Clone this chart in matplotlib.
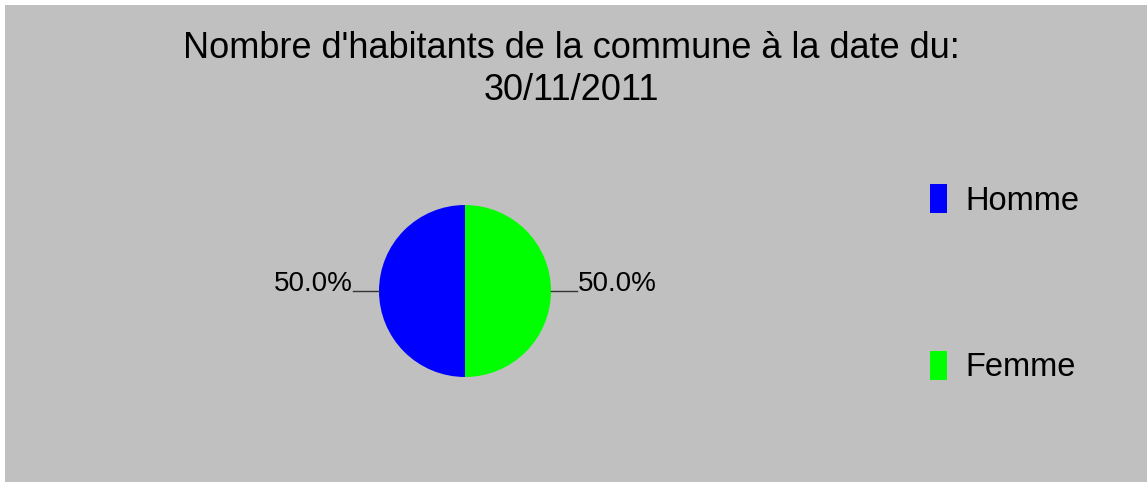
import matplotlib.pyplot as plt
import numpy as np
from matplotlib.patches import Rectangle, Patch

# data
categories = ['Homme', 'Femme']
values = [50, 50]
colors = ['#0000ff', '#00ff00']
title = "Nombre d'habitants de la commune à la date du:\n30/11/2011"

plt.rcParams['font.family'] = ['Liberation Sans', 'DejaVu Sans']

W, H = 1147, 482
fig = plt.figure(figsize=(W / 100, H / 100), dpi=100, facecolor='white')

# grey panel with thin white margin on top/left
fig.patches.append(Rectangle((5 / W, 0), 1 - 5 / W, (H - 5) / H, transform=fig.transFigure,
                             facecolor='#c0c0c0', edgecolor='none', zorder=-10))

# pie axes: centre (465, 291) px, radius 86 px
r = 86
cx, cy = 465, H - 291
half = 100
ax = fig.add_axes([(cx - half) / W, (cy - half) / H, 2 * half / W, 2 * half / H])
wedges, _ = ax.pie(values, colors=colors, startangle=90, counterclock=True,
                   wedgeprops=dict(linewidth=0))
ax.set_xlim(-half / r, half / r)
ax.set_ylim(-half / r, half / r)
ax.axis('off')

# percentage labels with leader lines
total = sum(values)
for w, v in zip(wedges, values):
    ang = np.deg2rad((w.theta1 + w.theta2) / 2)
    x, y = np.cos(ang), np.sin(ang)
    sign = 1 if x >= 0 else -1
    ax.plot([x, x + sign * 0.3], [y, y], color='#333333', lw=1, clip_on=False)
    ax.text(x + sign * 0.31, y, f'{100 * v / total:.1f}%',
            ha='left' if sign > 0 else 'right', va='baseline', fontsize=20)

fig.text(571 / W, 1 - 31 / H, title, ha='center', va='top', fontsize=26, linespacing=1.25)

handles = [Patch(facecolor=c, edgecolor='none', label=l) for l, c in zip(categories, colors)]
fig.legend(handles=handles, loc='upper left', bbox_to_anchor=(930 / W, 1 - 184 / H),
           frameon=False, fontsize=23.5, handlelength=0.52, handleheight=1.0,
           handletextpad=0.55, labelspacing=4.1, borderaxespad=0, borderpad=0)

fig.savefig('out.png', dpi=100, facecolor=fig.get_facecolor())
